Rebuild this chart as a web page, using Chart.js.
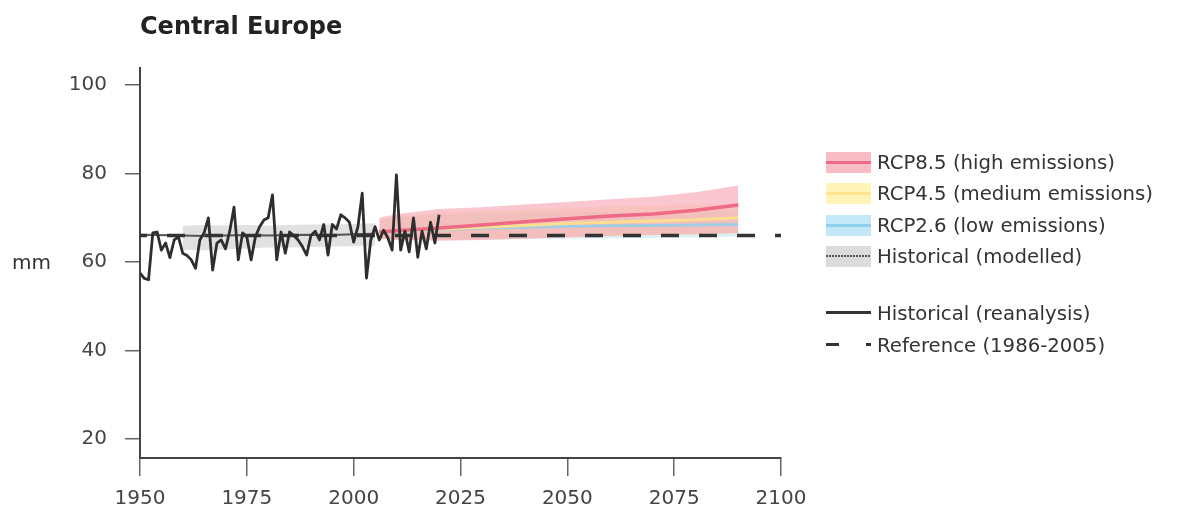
<!DOCTYPE html>
<html>
<head>
<meta charset="utf-8">
<script src="https://cdn.jsdelivr.net/npm/chart.js@4.4.0/dist/chart.umd.min.js"></script>
<style>
  html, body { margin:0; padding:0; background:#fff; }
  #wrap { position:relative; width:1193px; height:508px; overflow:hidden; font-family:"DejaVu Sans", Verdana, sans-serif; color:#333; }
  #c { position:absolute; left:0; top:0; }
  .txt { position:absolute; white-space:nowrap; line-height:24px; font-size:20px; color:#333; }
  #title { left:140px; top:14px; font-size:24px; font-weight:bold; color:#222; }
  .sw { position:absolute; left:826px; width:45px; height:21px; }
  .lt { left:877px; font-size:19.7px; }
</style>
</head>
<body>
<div id="wrap">
  <canvas id="c" width="1193" height="508"></canvas>
  <div id="title" class="txt">Central Europe</div>
  <div class="txt" style="left:12px; top:250px;">mm</div>

  <div class="sw" style="top:152px; background:linear-gradient(to bottom, transparent 9px, #ee6b87 9px, #ee6b87 12px, transparent 12px), #f8bcc6;"></div>
  <div class="txt lt" style="top:151px;">RCP8.5 (high emissions)</div>

  <div class="sw" style="top:183px; background:linear-gradient(to bottom, transparent 9px, #ffe58c 9px, #ffe58c 12px, transparent 12px), #fff3b8;"></div>
  <div class="txt lt" style="top:182px;">RCP4.5 (medium emissions)</div>

  <div class="sw" style="top:215px; background:linear-gradient(to bottom, transparent 9px, #8ed0ee 9px, #8ed0ee 12px, transparent 12px), #c4e8f7;"></div>
  <div class="txt lt" style="top:214px;">RCP2.6 (low emissions)</div>

  <div class="sw" style="top:246px; background:repeating-linear-gradient(to right, #555 0px, #555 2px, transparent 2px, transparent 3px) 0 9px / 45px 2px no-repeat, #dcdcdc;"></div>
  <div class="txt lt" style="top:245px;">Historical (modelled)</div>

  <div class="sw" style="top:302px; background:linear-gradient(to bottom, transparent 9px, #333 9px, #333 12px, transparent 12px);"></div>
  <div class="txt lt" style="top:302px;">Historical (reanalysis)</div>

  <div class="sw" style="top:334px; background:linear-gradient(to right, #333 0px, #333 13px, transparent 13px, transparent 40px, #333 40px, #333 45px) 0 9px / 45px 3px no-repeat;"></div>
  <div class="txt lt" style="top:334px;">Reference (1986-2005)</div>
</div>
<script>
// ---- data ----
const xTicks = [1950, 1975, 2000, 2025, 2050, 2075, 2100];
const yTicks = [20, 40, 60, 80, 100];

const reanalysisYears = [];
for (let y = 1950; y <= 2020; y++) reanalysisYears.push(y);
const reanalysisValues = [
  57.5, 56.3, 56.0, 66.6, 66.8, 62.7, 64.3, 61.0, 65.0, 65.7,
  62.0, 61.5, 60.5, 58.6, 65.0, 66.6, 70.0, 58.2, 64.3, 65.0,
  63.0, 67.0, 72.4, 60.5, 66.6, 65.7, 60.5, 65.7, 68.0, 69.5,
  70.0, 75.2, 60.5, 66.8, 62.0, 66.8, 66.0, 65.0, 63.5, 61.6,
  66.0, 67.0, 65.0, 68.5, 61.6, 68.5, 67.5, 70.7, 70.0, 69.0,
  64.5, 68.0, 75.6, 56.4, 65.0, 68.0, 65.0, 67.2, 65.5, 62.7,
  79.7, 62.7, 67.0, 62.3, 70.0, 61.1, 67.0, 63.0, 69.0, 64.3,
  70.7
];

const referenceYears = [1950, 2100];
const referenceValues = [66.0, 66.0];

const histModYears = [1950, 1960, 1965, 1970, 1975, 1980, 1985, 1990, 1995, 2000, 2005];
const histModMean  = [66.2, 66.0, 65.9, 66.0, 66.1, 66.0, 66.1, 66.2, 66.1, 66.3, 66.4];
const histBandYears = [1960, 1965, 1970, 1975, 1980, 1985, 1990, 1995, 2000, 2005];
const histBandUpper = [68.2, 68.4, 68.3, 68.4, 68.3, 68.4, 68.5, 68.5, 68.6, 68.8];
const histBandLower = [62.8, 62.7, 62.9, 63.1, 63.3, 63.3, 63.4, 63.5, 63.6, 63.7];

const rcpYears = [2006, 2010, 2020, 2030, 2040, 2050, 2060, 2070, 2080, 2090];
const rcp85Mean  = [66.8, 67.1, 67.7, 68.4, 69.1, 69.8, 70.4, 70.9, 71.7, 72.9];
const rcp85Upper = [70.0, 70.8, 72.0, 72.4, 73.0, 73.6, 74.2, 74.8, 75.8, 77.3];
const rcp85Lower = [65.3, 65.0, 64.8, 65.0, 65.3, 65.6, 65.9, 66.1, 66.3, 66.6];
const rcp45Mean  = [66.7, 67.0, 67.4, 67.9, 68.3, 68.7, 69.0, 69.3, 69.6, 70.0];
const rcp45Upper = [69.6, 70.3, 71.2, 71.6, 71.9, 72.2, 72.5, 72.8, 73.0, 73.3];
const rcp45Lower = [65.3, 65.1, 65.0, 65.2, 65.4, 65.6, 65.8, 66.0, 66.2, 66.4];
const rcp26Mean  = [66.7, 66.9, 67.3, 67.7, 67.9, 68.1, 68.2, 68.3, 68.4, 68.5];
const rcp26Upper = [69.5, 70.1, 70.8, 71.0, 71.1, 71.2, 71.3, 71.3, 71.4, 71.5];
const rcp26Lower = [65.3, 65.1, 65.0, 65.1, 65.2, 65.3, 65.4, 65.5, 65.6, 65.8];

const pts = (xs, ys) => xs.map((x, i) => ({x: x, y: ys[i]}));
const none = {pointRadius: 0, pointHoverRadius: 0, tension: 0};
const clear = 'rgba(0,0,0,0)';

const datasets = [
  // bands
  Object.assign({label:'hl', data: pts(histBandYears, histBandLower), borderWidth:0, borderColor:clear, fill:false, order:20}, none),
  Object.assign({label:'hu', data: pts(histBandYears, histBandUpper), borderWidth:0, borderColor:clear, backgroundColor:'rgba(205,205,205,0.6)', fill:0, order:19}, none),
  Object.assign({label:'26l', data: pts(rcpYears, rcp26Lower), borderWidth:0, borderColor:clear, fill:false, order:18}, none),
  Object.assign({label:'26u', data: pts(rcpYears, rcp26Upper), borderWidth:0, borderColor:clear, backgroundColor:'rgba(180,225,245,0.5)', fill:2, order:17}, none),
  Object.assign({label:'45l', data: pts(rcpYears, rcp45Lower), borderWidth:0, borderColor:clear, fill:false, order:16}, none),
  Object.assign({label:'45u', data: pts(rcpYears, rcp45Upper), borderWidth:0, borderColor:clear, backgroundColor:'rgba(255,238,165,0.5)', fill:4, order:15}, none),
  Object.assign({label:'85l', data: pts(rcpYears, rcp85Lower), borderWidth:0, borderColor:clear, fill:false, order:14}, none),
  Object.assign({label:'85u', data: pts(rcpYears, rcp85Upper), borderWidth:0, borderColor:clear, backgroundColor:'rgba(246,160,176,0.6)', fill:6, order:13}, none),
  // means
  Object.assign({label:'26m', data: pts(rcpYears, rcp26Mean), borderWidth:3, borderColor:'rgba(140,207,238,0.8)', fill:false, order:6}, none),
  Object.assign({label:'45m', data: pts(rcpYears, rcp45Mean), borderWidth:3, borderColor:'rgba(255,227,136,0.85)', fill:false, order:5}, none),
  Object.assign({label:'85m', data: pts(rcpYears, rcp85Mean), borderWidth:3.5, borderColor:'#ee6a86', fill:false, order:4}, none),
  Object.assign({label:'hm', data: pts(histModYears, histModMean), borderWidth:2, borderColor:'#555', fill:false, order:3}, none),
  Object.assign({label:'ref', data: pts(referenceYears, referenceValues), borderWidth:3.5, borderColor:'#333', borderDash:[18,20], borderDashOffset:11, borderCapStyle:'butt', fill:false, order:2}, none),
  Object.assign({label:'rea', data: pts(reanalysisYears, reanalysisValues), borderWidth:2.8, borderColor:'#2e2e2e', fill:false, order:1}, none)
];

const font = {family: '"DejaVu Sans", Verdana, sans-serif', size: 20};

new Chart(document.getElementById('c'), {
  type: 'line',
  data: { datasets: datasets },
  options: {
    responsive: false,
    animation: false,
    devicePixelRatio: 1,
    layout: { padding: { left: 0, right: 412, top: 67.5, bottom: 0 } },
    plugins: { legend: {display:false}, title: {display:false}, tooltip: {enabled:false} },
    elements: { line: { borderJoinStyle: 'round' } },
    scales: {
      x: {
        type: 'linear', min: 1950, max: 2100,
        afterBuildTicks: s => { s.ticks = xTicks.map(v => ({value: v})); },
        afterFit: s => { s.height = 50; },
        grid: { display: true, drawOnChartArea: false, drawTicks: true, tickLength: 18, color: '#666', lineWidth: 1.5 },
        border: { display: true, color: '#444', width: 2 },
        ticks: { font: font, color: '#444', padding: 11, maxRotation: 0, autoSkip: false, callback: v => String(v) }
      },
      y: {
        type: 'linear', min: 15.7, max: 104,
        afterBuildTicks: s => { s.ticks = yTicks.map(v => ({value: v})); },
        afterFit: s => { s.width = 140; },
        grid: { display: true, drawOnChartArea: false, drawTicks: true, tickLength: 15, color: '#666', lineWidth: 1.5 },
        border: { display: true, color: '#444', width: 2 },
        ticks: { font: font, color: '#444', padding: 18, callback: v => String(v) }
      }
    }
  }
});
</script>
</body>
</html>
